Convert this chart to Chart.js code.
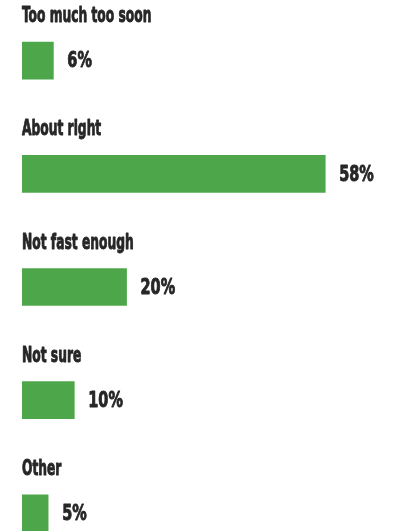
<!DOCTYPE html>
<html>
<head>
<meta charset="utf-8">
<script src="https://cdn.jsdelivr.net/npm/chart.js@4"></script>
<style>
  html, body { margin: 0; padding: 0; background: #fff; overflow: hidden; }
  .wrap { width: 394px; height: 531px; overflow: hidden; }
  .inner { width: 394px; height: 570px; }
</style>
</head>
<body>
<div class="wrap"><div class="inner"><canvas id="chart"></canvas></div></div>
<script>
const categories = ["Too much too soon", "About right", "Not fast enough", "Not sure", "Other"]
const values = [6, 58, 20, 10, 5]
const valueLabels = ["6%", "58%", "20%", "10%", "5%"]

const FONT = "'DejaVu Sans Condensed', 'DejaVu Sans', sans-serif"
const TEXT = "#262626"

// draw text squeezed horizontally to mimic the condensed face
const narrowText = (ctx, text, x, y, squeeze) => {
    ctx.save()
    ctx.translate(x, y)
    ctx.scale(squeeze, 1)
    ctx.lineWidth = 0.9
    ctx.strokeText(text, 0, 0)
    ctx.fillText(text, 0, 0)
    ctx.restore()
}

// category name above each bar, percentage to its right
const barLabels = {
    id: "barLabels",
    afterDatasetsDraw(chart) {
        const ctx = chart.ctx
        const meta = chart.getDatasetMeta(0)
        ctx.save()
        ctx.fillStyle = TEXT
        ctx.strokeStyle = TEXT
        ctx.lineJoin = "round"
        ctx.textAlign = "left"
        meta.data.forEach((bar, i) => {
            const top = bar.y - bar.height / 2
            ctx.font = "bold 22px " + FONT
            ctx.textBaseline = "alphabetic"
            narrowText(ctx, categories[i], chart.chartArea.left, top - 20, 0.62)
            ctx.textBaseline = "middle"
            narrowText(ctx, valueLabels[i], bar.x + 14, bar.y + 1, 0.73)
        })
        ctx.restore()
    },
}

new Chart(document.getElementById("chart"), {
    type: "bar",
    data: {
        labels: categories,
        datasets: [
            {
                data: values,
                backgroundColor: "#4ea64b",
                barThickness: 37,
                borderWidth: 0,
            },
        ],
    },
    plugins: [barLabels],
    options: {
        indexAxis: "y",
        responsive: true,
        maintainAspectRatio: false,
        animation: false,
        layout: {
            padding: { left: 22, right: 6, top: 4, bottom: 0 },
        },
        plugins: {
            legend: { display: false },
            tooltip: { enabled: false },
        },
        scales: {
            x: { display: false, min: 0, max: 70, grid: { display: false } },
            y: { display: false, grid: { display: false } },
        },
    },
})
</script>
</body>
</html>
